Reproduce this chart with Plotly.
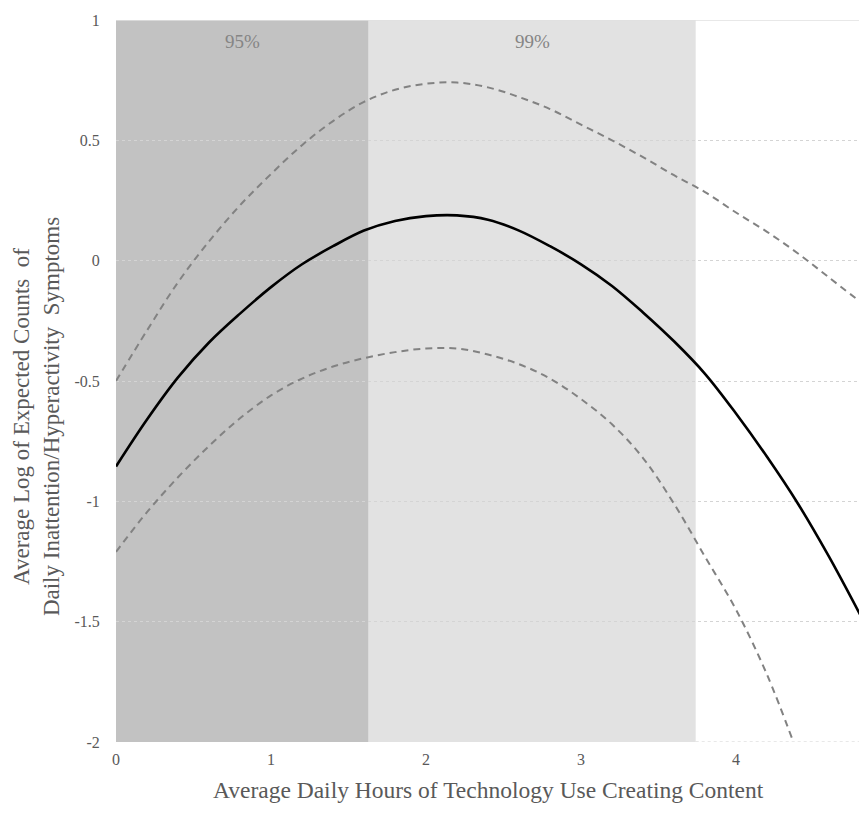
import plotly.graph_objects as go

# ---- data ----
x_hours = [0.0, 0.2, 0.4, 0.6, 0.8, 1.0, 1.2, 1.4, 1.6, 1.8, 2.0, 2.2, 2.4,
           2.6, 2.8, 3.0, 3.2, 3.4, 3.6, 3.8, 4.0, 4.2, 4.4, 4.6, 4.8]
estimate = [-0.855, -0.66, -0.485, -0.34, -0.22, -0.11, -0.015, 0.06, 0.125,
            0.165, 0.185, 0.188, 0.170, 0.125, 0.06, -0.015, -0.105, -0.215,
            -0.335, -0.47, -0.635, -0.815, -1.01, -1.23, -1.47]
upper_ci = [-0.50, -0.29, -0.09, 0.08, 0.23, 0.36, 0.48, 0.58, 0.66, 0.71,
            0.735, 0.74, 0.72, 0.68, 0.63, 0.565, 0.50, 0.43, 0.355, 0.285,
            0.20, 0.12, 0.03, -0.07, -0.17]
x_lower = [0.0, 0.2, 0.4, 0.6, 0.8, 1.0, 1.2, 1.4, 1.6, 1.8, 2.0, 2.2, 2.4,
           2.6, 2.8, 3.0, 3.2, 3.4, 3.6, 3.8, 4.0, 4.2, 4.37]
lower_ci = [-1.21, -1.045, -0.90, -0.77, -0.655, -0.56, -0.49, -0.44, -0.405,
            -0.38, -0.365, -0.365, -0.39, -0.43, -0.49, -0.575, -0.68, -0.82,
            -1.01, -1.23, -1.45, -1.72, -2.0]

region_bounds = [0.0, 1.63, 3.74]
region_labels = ["95%", "99%"]
x_ticks = [0, 1, 2, 3, 4]
y_ticks = [1, 0.5, 0, -0.5, -1, -1.5, -2]
y_tick_text = ["1", "0.5", "0", "-0.5", "-1", "-1.5", "-2"]
x_range = [0, 4.8]
y_range = [-2, 1]
x_title = "Average Daily Hours of Technology Use Creating Content"
y_title = "Average Log of Expected Counts  of<br>Daily Inattention/Hyperactivity  Symptoms"

FONT = "Liberation Serif, Times New Roman, serif"
TXT = "#595959"

fig = go.Figure()

fig.add_trace(go.Scatter(x=x_hours, y=upper_ci, mode="lines",
                         line=dict(color="#828282", width=2, dash="7px,5px", shape="spline"),
                         showlegend=False, hoverinfo="skip"))
fig.add_trace(go.Scatter(x=x_lower, y=lower_ci, mode="lines",
                         line=dict(color="#828282", width=2, dash="7px,5px", shape="spline"),
                         showlegend=False, hoverinfo="skip"))
fig.add_trace(go.Scatter(x=x_hours, y=estimate, mode="lines",
                         line=dict(color="#000000", width=2.6, shape="spline"),
                         showlegend=False))

# shaded significance regions
shade_colors = ["#c2c2c2", "#e2e2e2"]
for i in range(2):
    fig.add_shape(type="rect", xref="x", yref="y",
                  x0=region_bounds[i], x1=region_bounds[i + 1],
                  y0=y_range[0], y1=y_range[1],
                  fillcolor=shade_colors[i], line=dict(width=0), layer="below")
    fig.add_annotation(x=(region_bounds[i] + region_bounds[i + 1]) / 2, y=0.91,
                       text=region_labels[i], showarrow=False,
                       font=dict(family=FONT, size=19, color="#858585"))

# top border line and bottom gridline at the range edges
fig.add_shape(type="line", xref="x", yref="y", x0=x_range[0], x1=x_range[1],
              y0=y_range[1], y1=y_range[1], line=dict(color="#e0e0e0", width=1.5),
              layer="below")
fig.add_shape(type="line", xref="x", yref="y", x0=region_bounds[2], x1=x_range[1],
              y0=y_range[0], y1=y_range[0], line=dict(color="#d0d0d0", width=1, dash="dot"),
              layer="below")

# axis titles
fig.add_annotation(xref="paper", yref="paper", x=0.5, y=-0.0665,
                   xanchor="center", yanchor="middle", showarrow=False,
                   text=x_title, font=dict(family=FONT, size=23.5, color=TXT))
fig.add_annotation(xref="paper", yref="paper", x=-0.1075, y=0.45,
                   xanchor="center", yanchor="middle", showarrow=False,
                   textangle=-90, text=y_title,
                   font=dict(family=FONT, size=23, color=TXT))

fig.update_layout(
    width=859, height=809,
    margin=dict(l=108, r=7, t=12, b=75),
    paper_bgcolor="white", plot_bgcolor="white",
    font=dict(family=FONT, color=TXT),
    showlegend=False,
)
fig.update_xaxes(range=x_range, tickvals=x_ticks, showgrid=False,
                 zeroline=False, showline=False, automargin=False,
                 ticks="outside", ticklen=3, tickcolor="rgba(0,0,0,0)",
                 tickfont=dict(size=16, family=FONT, color=TXT))
fig.update_yaxes(range=y_range, tickvals=y_ticks, ticktext=y_tick_text,
                 showgrid=True, gridcolor="#d4d4d4", gridwidth=1, griddash="dot",
                 zeroline=False, showline=False, automargin=False,
                 ticks="outside", ticklen=12, tickcolor="rgba(0,0,0,0)",
                 tickfont=dict(size=16, family=FONT, color=TXT))

fig.write_html("out.html")
